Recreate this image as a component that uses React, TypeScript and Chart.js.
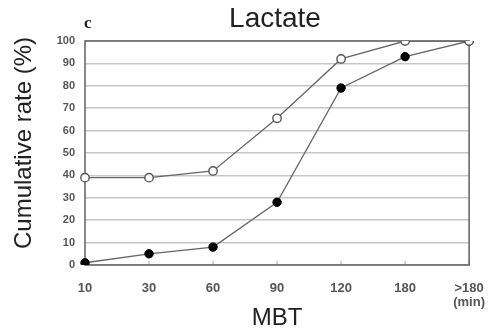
import React, { useEffect, useRef } from "react";
import { Chart, registerables } from "chart.js";

Chart.register(...registerables);

const categories: (string | string[])[] = ["10", "30", "60", "90", "120", "180", [">180", "(min)"]];
const openSeries = [39, 39, 42, 65.5, 92, 100, 100];
const filledSeries = [1, 5, 8, 28, 79, 93, 100];
const yTicks = [0, 10, 20, 30, 40, 50, 60, 70, 80, 90, 100];
const chartTitle = "Lactate";
const panelLetter = "c";
const yTitle = "Cumulative rate (%)";
const xTitle = "MBT";

const textPlugin = {
  id: "extraText",
  beforeDatasetsDraw(chart: any) {
    const { ctx, chartArea } = chart;
    const xs = chart.scales.x;
    ctx.save();
    // inward tick marks on x axis
    ctx.strokeStyle = "#aaaaaa";
    ctx.lineWidth = 1;
    for (let i = 0; i < categories.length; i++) {
      const px = xs.getPixelForTick(i);
      ctx.beginPath();
      ctx.moveTo(px, chartArea.bottom);
      ctx.lineTo(px, chartArea.bottom - 4);
      ctx.stroke();
    }
    // frame
    ctx.strokeStyle = "#6a6a6a";
    ctx.lineWidth = 1.6;
    ctx.strokeRect(chartArea.left, chartArea.top, chartArea.right - chartArea.left, chartArea.bottom - chartArea.top);
    ctx.restore();
  },
  afterDraw(chart: any) {
    const { ctx } = chart;
    ctx.save();
    ctx.fillStyle = "#222222";
    ctx.font = "28px 'Liberation Sans', Arial, sans-serif";
    ctx.textAlign = "center";
    ctx.textBaseline = "alphabetic";
    ctx.fillText(chartTitle, 275, 27);

    ctx.font = "bold 17px 'Liberation Serif', 'DejaVu Serif', serif";
    ctx.textAlign = "left";
    ctx.fillText(panelLetter, 84, 28);

    ctx.translate(24, 143);
    ctx.rotate(-Math.PI / 2);
    ctx.font = "24px 'Liberation Sans', Arial, sans-serif";
    ctx.textAlign = "center";
    ctx.textBaseline = "middle";
    ctx.fillText(yTitle, 0, 0);
    ctx.restore();
  },
};

export default function App() {
  const ref = useRef<HTMLCanvasElement | null>(null);
  useEffect(() => {
    if (!ref.current) return;
    const chart = new Chart(ref.current, {
      type: "line",
      data: {
        labels: categories,
        datasets: [
          {
            data: openSeries,
            borderColor: "#666666",
            borderWidth: 1.3,
            pointRadius: 4.2,
            pointBackgroundColor: "#ffffff",
            pointBorderColor: "#555555",
            pointBorderWidth: 1.4,
            tension: 0,
          },
          {
            data: filledSeries,
            borderColor: "#666666",
            borderWidth: 1.3,
            pointRadius: 4.2,
            pointBackgroundColor: "#000000",
            pointBorderColor: "#000000",
            pointBorderWidth: 1,
            tension: 0,
          },
        ],
      },
      options: {
        responsive: false,
        animation: false,
        layout: { padding: { top: 41, right: 25, left: 0, bottom: 0 } },
        plugins: { legend: { display: false }, tooltip: { enabled: false }, title: { display: false } },
        scales: {
          x: {
            type: "category",
            offset: false,
            grid: { display: false, drawTicks: false },
            border: { display: false },
            ticks: {
              padding: 16,
              color: "#555555",
              font: { family: "'Liberation Sans', Arial, sans-serif", size: 13, weight: "bold", lineHeight: 1.1 },
              maxRotation: 0,
              autoSkip: false,
            },
            title: {
              display: true,
              text: xTitle,
              color: "#222222",
              font: { family: "'Liberation Sans', Arial, sans-serif", size: 24, lineHeight: 1.2 },
              padding: { top: 0, bottom: 1 },
            },
            afterFit: (s: any) => {
              s.height = 69;
            },
          },
          y: {
            min: 0,
            max: 100,
            grid: { color: "#c6c6c6", lineWidth: 1.5, drawTicks: false },
            border: { display: false },
            afterBuildTicks: (s: any) => {
              s.ticks = yTicks.map((v) => ({ value: v }));
            },
            ticks: {
              padding: 10,
              color: "#555555",
              font: { family: "'Liberation Sans', Arial, sans-serif", size: 11, weight: "bold" },
            },
            afterFit: (s: any) => {
              s.width = 85;
            },
          },
        },
      },
      plugins: [textPlugin],
    });
    return () => chart.destroy();
  }, []);
  return (
    <div style={{ position: "absolute", left: 0, top: 0, width: 501, height: 334, background: "#fff" }}>
      <canvas ref={ref} width={501} height={334} style={{ display: "block" }} />
    </div>
  );
}
